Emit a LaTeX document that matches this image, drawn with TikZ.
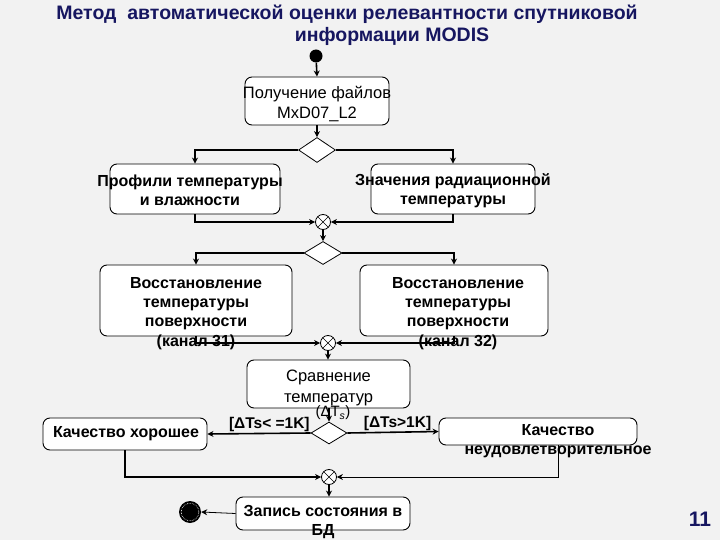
\documentclass[tikz,border=0pt]{standalone}
\usepackage{fontspec}
\setmainfont{Liberation Sans}
\usetikzlibrary{arrows.meta,shapes.geometric,calc}
\definecolor{bg}{RGB}{242,242,242}
\definecolor{navy}{RGB}{22,22,96}
\tikzset{
  box/.style={draw, fill=white, rounded corners=7pt, line width=0.9pt, inner sep=0pt},
  txt/.style={align=center, font=\bfseries\fontsize{16}{19.2}\selectfont, inner sep=0pt},
  txtr/.style={align=center, font=\fontsize{16.5}{20.5}\selectfont, inner sep=0pt},
  dec/.style={diamond, draw, fill=white, line width=0.8pt, inner sep=0pt},
  joinc/.style={circle, draw, fill=white, line width=0.8pt, minimum size=15pt, inner sep=0pt,
    path picture={\draw[line width=0.5pt] (path picture bounding box.north west)--(path picture bounding box.south east)
      (path picture bounding box.south west)--(path picture bounding box.north east);}},
  flow/.style={line width=1.6pt, -{Stealth[length=6pt,width=6pt]}},
  thin flow/.style={line width=0.8pt, -{Stealth[length=6pt,width=6pt]}},
  lbl/.style={font=\bfseries\fontsize{15.5}{17}\selectfont, inner sep=1pt}
}
\begin{document}
\begin{tikzpicture}[x=1pt,y=-1pt]
\fill[bg] (0,0) rectangle (720,540);
\useasboundingbox (0,0) rectangle (720,540);
% title
\node[font=\bfseries\fontsize{19.5}{22}\selectfont, text=navy, inner sep=0pt] (title1) at (347,14)
  {Метод\ \ автоматической оценки релевантности спутниковой};
\node[font=\bfseries\fontsize{19.5}{22}\selectfont, text=navy, inner sep=0pt] (title2) at (392,36)
  {информации MODIS};
\node[font=\bfseries\fontsize{21}{24}\selectfont, text=navy, inner sep=0pt] (pagenum) at (700,519) {11};

% start
\node[circle, fill=black, minimum size=13pt, inner sep=0pt] (start) at (316,56) {};
% boxes
\node[box, minimum width=144pt, minimum height=48pt] (b1) at (317,101) {};
\node[txtr] (b1t) at (317,104) {Получение файлов\\MxD07\_L2};
\node[dec, minimum width=37pt, minimum height=25pt] (d1) at (317,150) {};
\node[box, minimum width=170pt, minimum height=50pt] (b2L) at (195,189) {};
\node[txt] (b2Lt) at (190,190.5) {Профили температуры\\и влажности};
\node[box, minimum width=164pt, minimum height=50pt] (b2R) at (453,189) {};
\node[txt] (b2Rt) at (453,190.5) {Значения радиационной\\температуры};
\node[joinc] (j1) at (323,222) {};
\node[dec, minimum width=38pt, minimum height=23pt] (d2) at (323,253) {};
\node[box, minimum width=192pt, minimum height=71pt] (b3L) at (196,300.5) {};
\node[txt] (b3Lt) at (196,313.5) {Восстановление\\температуры\\поверхности\\(канал 31)};
\node[box, minimum width=188pt, minimum height=71pt] (b3R) at (454,300.5) {};
\node[txt] (b3Rt) at (458,313.5) {Восстановление\\температуры\\поверхности\\(канал 32)};
\node[joinc] (j2) at (328,343) {};
\node[box, minimum width=163pt, minimum height=48pt] (b4) at (328.5,384) {};
\node[txtr] (b4t) at (328.5,388) {Сравнение\\температур};
\node[txtr, font=\fontsize{15}{17}\selectfont] (b4s) at (333,413) {(ΔT\textsubscript{\textit{s}})};
\node[dec, minimum width=36pt, minimum height=22pt] (d3) at (329,433) {};
\node[box, minimum width=164pt, minimum height=32pt] (b5) at (125,434) {};
\node[txt] (b5t) at (126,434) {Качество хорошее};
\node[box, minimum width=198pt, minimum height=27pt] (b6) at (538,431.5) {};
\node[txt] (b6t) at (558,441) {Качество\\неудовлетворительное};
\node[joinc] (j3) at (329,477) {};
\node[box, minimum width=174pt, minimum height=33pt] (b7) at (323,513.5) {};
\node[txt] (b7t) at (323,522) {Запись состояния в\\БД};
% end
\node[circle, fill=black, minimum size=22pt, inner sep=0pt] (end) at (190,512) {};
\draw[white, densely dotted, line width=0.6pt] (end.center) circle (8.8pt);

% connectors
\draw[flow] (start) -- (b1.north);
\draw[flow] (b1.south) -- (d1.north);
\draw[flow] (d1.west) -| (b2L.north);
\draw[flow] (d1.east) -| (b2R.north);
\draw[flow] (b2L.south) |- (j1.west);
\draw[flow] (b2R.south) |- (j1.east);
\draw[flow] (j1.south) -- (d2.north);
\draw[flow] (d2.west) -| (b3L.north);
\draw[flow] (d2.east) -| (b3R.north);
\draw[flow] (b3L.south) |- (j2.west);
\draw[flow] (b3R.south) |- (j2.east);
\draw[flow] (j2.south) -- (b4.north -| j2.south);
\draw[flow] (b4.south -| d3.north) -- (d3.north);
\draw[flow] (d3.west) -- node[lbl, above, pos=0.4] (l1) {[ΔTs< =1K]} (b5.east);
\draw[flow] (d3.east) -- node[lbl, above, pos=0.55] (l2) {[ΔTs>1K]} (b6.west);
\draw[flow] (b5.south) |- (j3.west);
\draw[thin flow] (b6.south -| b6t.south) |- (j3.east);
\draw[flow] (j3.south) -- (b7.north -| j3.south);
\draw[thin flow] (b7.west) -- (end.east);
\end{tikzpicture}
\end{document}
